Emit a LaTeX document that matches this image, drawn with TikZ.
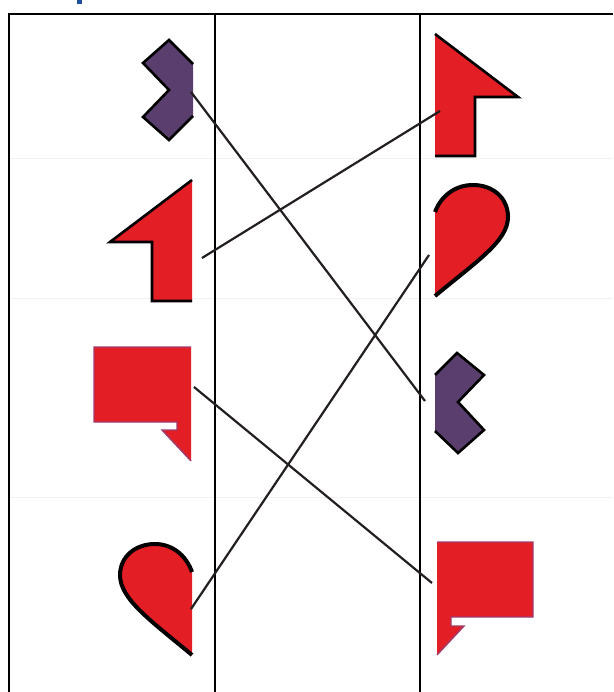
\documentclass[tikz,border=0pt]{standalone}
\usetikzlibrary{calc}
\definecolor{shred}{RGB}{227,30,36}
\definecolor{shpurple}{RGB}{90,63,110}
\definecolor{bubedge}{RGB}{160,60,110}
\definecolor{linecol}{RGB}{35,31,32}
\definecolor{titleblue}{RGB}{31,78,154}
\tikzset{
  grid/.style={line width=2.4pt, black},
  rowsep/.style={line width=0.6pt, black!5},
  outl/.style={line width=2.6pt, black, line join=miter, miter limit=10},
  heartl/.style={line width=4pt, black, line join=round},
  bubl/.style={line width=1.4pt, bubedge, line join=miter},
  conn/.style={line width=2.2pt, linecol},
}
\begin{document}
\begin{tikzpicture}[x=1pt,y=-1pt]
\useasboundingbox (0,0) rectangle (613,692);
\fill[white] (0,0) rectangle (613,692);
% title fragment
\fill[titleblue] (77,0) rectangle (82,4);
% faint row separators
\draw[rowsep] (9,158) -- (613,158);
\draw[rowsep] (9,298) -- (613,298);
\draw[rowsep] (9,497) -- (613,497);
% table
\draw[grid] (9,692) -- (9,14) -- (613,14);
\draw[grid] (215,14) -- (215,692);
\draw[grid] (420,14) -- (420,692);

% ---- left column ----
% purple chevron (row 1)
\begin{scope}[shift={(193,40)},xscale=-1]
  \fill[shpurple] (0,24) -- (24,0) -- (50,23) -- (24,50) -- (50,77) -- (24,100) -- (0,76) -- cycle;
  \draw[outl] (0,24) -- (24,0) -- (50,23) -- (24,50) -- (50,77) -- (24,100) -- (0,76);
\end{scope}
% red arrow (row 2)
\begin{scope}[shift={(192,180)},xscale=-1]
  \fill[shred] (0,0) -- (82,62) -- (40,62) -- (40,121) -- (0,121) -- cycle;
  \draw[outl] (0,0) -- (82,62) -- (40,62) -- (40,121) -- (0,121);
\end{scope}
% speech bubble (row 3)
\begin{scope}[shift={(191,347)},xscale=-1]
  \fill[shred] (0,0) -- (97,0) -- (97,75) -- (14,75) -- (14,83) -- (29,83) -- (0,114) -- cycle;
  \draw[bubl] (0,0) -- (97,0) -- (97,75) -- (14,75) -- (14,83) -- (29,83) -- (0,114);
\end{scope}
% half heart (row 4)
\begin{scope}[shift={(192,544)},xscale=-1]
  \fill[shred] (0,28) .. controls (6,11) and (20,0) .. (37,0)
     .. controls (57,0) and (72,13) .. (72,31)
     .. controls (72,55) and (42,76) .. (0,111) -- cycle;
  \draw[heartl] (0,28) .. controls (6,11) and (20,0) .. (37,0)
     .. controls (57,0) and (72,13) .. (72,31)
     .. controls (72,55) and (42,76) .. (0,111);
\end{scope}

% ---- right column ----
% red arrow (row 1)
\begin{scope}[shift={(435,34)}]
  \fill[shred] (0,0) -- (83,63) -- (40,63) -- (40,122) -- (0,122) -- cycle;
  \draw[outl] (0,0) -- (83,63) -- (40,63) -- (40,122) -- (0,122);
\end{scope}
% half heart (row 2)
\begin{scope}[shift={(435,185)}]
  \fill[shred] (0,27) .. controls (6,11) and (20,0) .. (38,0)
     .. controls (58,0) and (73,13) .. (73,32)
     .. controls (73,56) and (42,76) .. (0,111) -- cycle;
  \draw[heartl] (0,27) .. controls (6,11) and (20,0) .. (38,0)
     .. controls (58,0) and (73,13) .. (73,32)
     .. controls (73,56) and (42,76) .. (0,111);
\end{scope}
% purple chevron (row 3)
\begin{scope}[shift={(435,353)}]
  \fill[shpurple] (0,22) -- (22,0) -- (49,22) -- (23,49) -- (49,77) -- (23,100) -- (0,78) -- cycle;
  \draw[outl] (0,22) -- (22,0) -- (49,22) -- (23,49) -- (49,77) -- (23,100) -- (0,78);
\end{scope}
% speech bubble (row 4)
\begin{scope}[shift={(437,542)}]
  \fill[shred] (0,0) -- (96,0) -- (96,75) -- (14,75) -- (14,84) -- (27,84) -- (0,113) -- cycle;
  \draw[bubl] (0,0) -- (96,0) -- (96,75) -- (14,75) -- (14,84) -- (27,84) -- (0,113);
\end{scope}

% connector ends
\coordinate (Lchev) at (191,92);
\coordinate (Larrow) at (202,258);
\coordinate (Lbub) at (194,387);
\coordinate (Lheart) at (191,609);
\coordinate (Rarrow) at (440,111);
\coordinate (Rheart) at (429,255);
\coordinate (Rchev) at (425,401);
\coordinate (Rbub) at (432,583);

\draw[conn] (Lchev) -- (Rchev);
\draw[conn] (Larrow) -- (Rarrow);
\draw[conn] (Lbub) -- (Rbub);
\draw[conn] (Lheart) -- (Rheart);
\end{tikzpicture}
\end{document}
